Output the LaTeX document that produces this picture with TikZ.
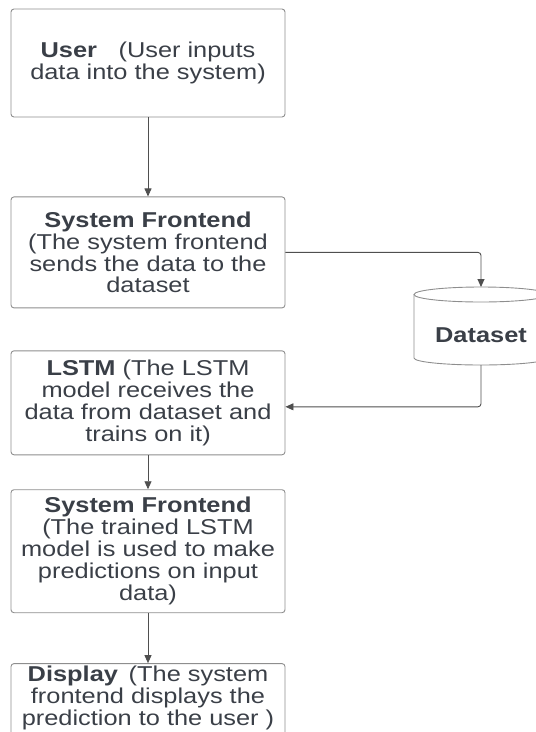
\documentclass[tikz,border=0pt]{standalone}
\usepackage{fontspec}
\setmainfont{Liberation Sans}[FakeStretch=1.18]
\usetikzlibrary{positioning,arrows.meta}

\definecolor{inkgray}{HTML}{3A3F47}
\definecolor{rimgray}{HTML}{8E8E8E}
\definecolor{wiregray}{HTML}{4F4F4F}

\tikzset{
  stage/.style={draw=rimgray, line width=0.9pt, rounded corners=3pt,
    minimum width=274pt, inner sep=0pt, align=center, text=inkgray,
    font=\fontsize{21.5}{21.9}\selectfont},
  store/.style={text=inkgray, inner sep=0pt, font=\fontsize{21.5}{21.9}\selectfont\bfseries},
  rim/.style={draw=rimgray, line width=0.9pt},
  flow/.style={draw=wiregray, line width=0.9pt, rounded corners=3pt,
    -{Triangle[length=8pt,width=7pt]}},
}

\begin{document}
\begin{tikzpicture}
\useasboundingbox (0,0) rectangle (536pt,-732pt);

\node[stage, minimum height=108pt] (user) at (148pt,-63pt)
  {\textbf{User}\quad(User inputs\\ data into the system)};
\node[stage, minimum height=111pt, below=79pt of user] (front)
  {\textbf{System Frontend}\\ (The system frontend\\ sends the data to the\\ dataset};
\node[stage, minimum height=104pt, below=42pt of front] (lstm)
  {\textbf{LSTM} (The LSTM\\ model receives the\\ data from dataset and\\ trains on it)};
\node[stage, minimum height=123pt, below=34pt of lstm] (predict)
  {\textbf{System Frontend}\\ (The trained LSTM\\ model is used to make\\ predictions on input\\ data)};
% text sits near the top, box runs on past the page
\node[stage, below=50pt of predict] (display)
  {\rule{0pt}{17.6pt}\textbf{Display}\enspace(The system\\ frontend displays the\\
   prediction to the user )\rule[-30pt]{0pt}{0pt}};

% dataset cylinder
\node[store] (data) at (481pt,-335pt) {Dataset};
\coordinate (dbtop) at (481pt,-287pt);
\coordinate (dbbot) at (481pt,-365pt);
\draw[rim] ([xshift=-67pt,yshift=-7.5pt]dbtop) -- ([xshift=-67pt,yshift=7pt]dbbot)
  arc[start angle=180, end angle=360, x radius=67pt, y radius=7pt]
  -- ([xshift=67pt,yshift=-7.5pt]dbtop);
\draw[rim] ([yshift=-7.5pt]dbtop) ellipse [x radius=67pt, y radius=7.5pt];

\draw[flow] (user) -- (front);
\draw[flow] (front.east) -| (dbtop);
\draw[flow] (dbbot) |- ([yshift=-4pt]lstm.east);
\draw[flow] (lstm) -- (predict);
\draw[flow] (predict) -- (display);
\end{tikzpicture}
\end{document}
